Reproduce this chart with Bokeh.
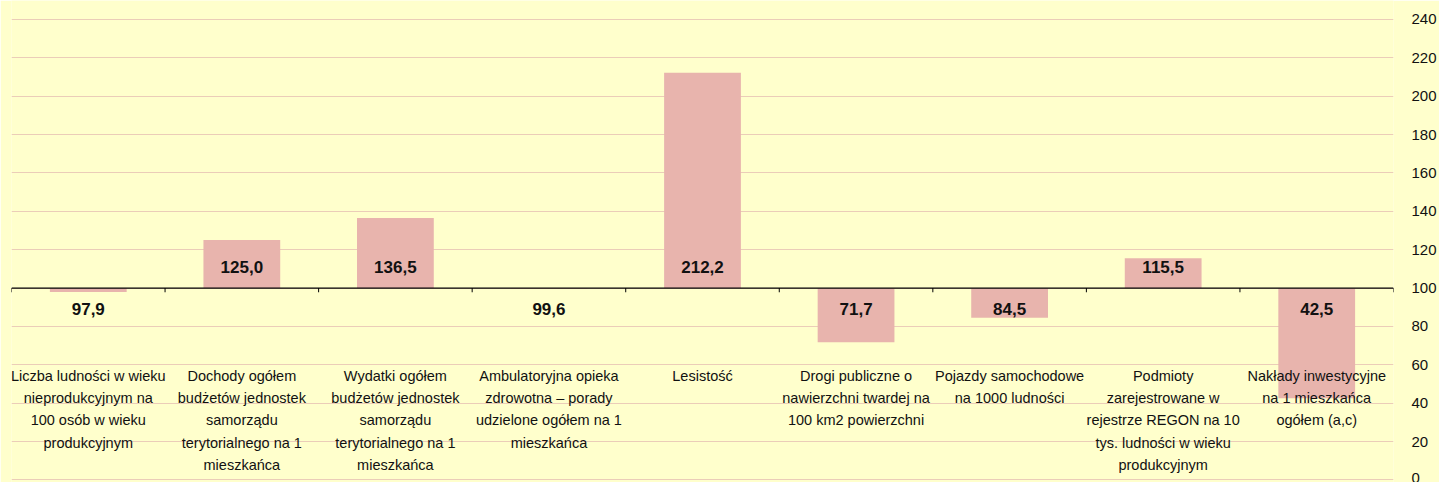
from bokeh.plotting import figure
from bokeh.models import Range1d, FixedTicker, ColumnDataSource
from bokeh.core.properties import value
from bokeh.embed import file_html
from bokeh.resources import INLINE

categories = [
    "Liczba ludności w wieku\nnieprodukcyjnym na\n100 osób w wieku\nprodukcyjnym",
    "Dochody ogółem\nbudżetów jednostek\nsamorządu\nterytorialnego na 1\nmieszkańca",
    "Wydatki ogółem\nbudżetów jednostek\nsamorządu\nterytorialnego na 1\nmieszkańca",
    "Ambulatoryjna opieka\nzdrowotna – porady\nudzielone ogółem na 1\nmieszkańca",
    "Lesistość",
    "Drogi publiczne o\nnawierzchni twardej na\n100 km2 powierzchni",
    "Pojazdy samochodowe\nna 1000 ludności",
    "Podmioty\nzarejestrowane w\nrejestrze REGON na 10\ntys. ludności w wieku\nprodukcyjnym",
    "Nakłady inwestycyjne\nna 1 mieszkańca\nogółem (a,c)",
]
values = [97.9, 125.0, 136.5, 99.6, 212.2, 71.7, 84.5, 115.5, 42.5]
baseline = 100
y_ticks = list(range(0, 241, 20))

BG = "#FFFFCC"
BAR = "#E8B4AD"
GRID = "#EBCDB8"
FONT = "Liberation Sans"

n = len(categories)
xs = [i + 0.5 for i in range(n)]
labels = [f"{v:.1f}".replace(".", ",") for v in values]
label_off = 11
label_y = [baseline + label_off if v > baseline else baseline - label_off for v in values]

src = ColumnDataSource(dict(x=xs, v=values, cat=categories, lab=labels, ly=label_y))

p = figure(width=1439, height=482, x_range=Range1d(0, n), y_range=Range1d(-1.36, 249.9),
           output_backend="svg", toolbar_location=None,
           min_border_left=11, min_border_right=0, min_border_top=0, min_border_bottom=0,
           background_fill_color=BG, border_fill_color=BG, outline_line_color=None,
           x_axis_location=None, y_axis_location="right")

yax = p.yaxis[0]
yax.ticker = FixedTicker(ticks=y_ticks)
yax.axis_line_color = None
yax.major_tick_line_color = None
yax.minor_tick_line_color = None
yax.major_label_standoff = 12
yax.major_label_text_font = FONT
yax.major_label_text_font_size = "15px"
yax.major_label_text_color = "#111111"

p.xgrid.visible = False
p.ygrid.ticker = FixedTicker(ticks=y_ticks)
p.ygrid.grid_line_color = GRID
p.ygrid.grid_line_width = 1

p.vbar(x="x", bottom=baseline, top="v", width=0.5, source=src,
       fill_color=BAR, line_color=None)

# baseline axis line at 100 with ticks at category boundaries
bounds = list(range(n + 1))
p.segment(x0=0, y0=baseline, x1=n, y1=baseline, line_color="black", line_width=1.2)
p.segment(x0=bounds, y0=[baseline] * len(bounds), x1=bounds, y1=[baseline - 2.2] * len(bounds),
          line_color="black", line_width=1)

p.text(x="x", y="ly", text="lab", source=src, text_align="center", text_baseline="middle",
       text_font=value(FONT), text_font_size=value("17px"), text_font_style="bold",
       text_color="#111111")

p.text(x="x", y=58.5, text="cat", source=src, text_align="center", text_baseline="top",
       text_font=value(FONT), text_font_size=value("14.5px"), text_line_height=1.4,
       text_color="#111111")

html = file_html(p, INLINE)
html = html.replace("<body>", '<body style="background:#FFFFCC">', 1)
open("out.html", "w").write(html)
